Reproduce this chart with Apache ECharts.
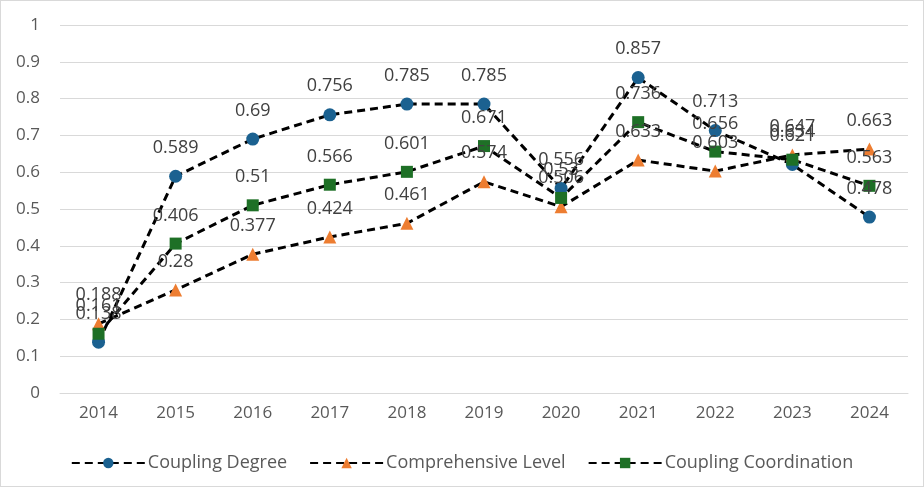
<!DOCTYPE html>
<html>
<head>
<meta charset="utf-8">
<script src="https://cdn.jsdelivr.net/npm/echarts@6/dist/echarts.min.js"></script>
<style>
  html, body { margin: 0; padding: 0; background: #fff; }
  #main { width: 922px; height: 485px; border: 1px solid #d9d9d9; }
</style>
</head>
<body>
<div id="main"></div>
<script>
var years = ['2014','2015','2016','2017','2018','2019','2020','2021','2022','2023','2024'];
var couplingDegree = [0.138,0.589,0.69,0.756,0.785,0.785,0.556,0.857,0.713,0.621,0.478];
var comprehensiveLevel = [0.188,0.28,0.377,0.424,0.461,0.574,0.506,0.633,0.603,0.647,0.663];
var couplingCoordination = [0.161,0.406,0.51,0.566,0.601,0.671,0.53,0.736,0.656,0.634,0.563];

var font = 'Open Sans, Liberation Sans, sans-serif';

/*公共线条样式*/
function makeSeries(name, data, symbol, color, size){
    return {
        name: name,
        type: 'line',
        data: data,
        symbol: symbol,
        symbolSize: size,
        itemStyle: { color: color },
        lineStyle: { color: '#000', width: 3, type: [8, 5] },
        label: {
            show: true,
            position: 'top',
            distance: 13,
            color: '#404040',
            fontSize: 18,
            fontFamily: font
        },
        animation: false
    };
}

var myChart = echarts.init(document.getElementById('main'));
var option = {
    grid: { left: 59, right: 15, top: 24, bottom: 93 },
    legend: {
        bottom: 9,
        left: 'center',
        itemWidth: 73,
        itemHeight: 13,
        itemGap: 22,
        textStyle: { color: '#595959', fontSize: 18, fontFamily: font, padding: [0, 0, 0, -2] }
    },
    xAxis: {
        type: 'category',
        data: years,
        axisLine: { lineStyle: { color: '#d9d9d9' } },
        axisTick: { show: false },
        axisLabel: { color: '#595959', fontSize: 17, fontFamily: font, margin: 12 }
    },
    yAxis: {
        type: 'value',
        min: 0,
        max: 1,
        interval: 0.1,
        axisLine: { show: false },
        axisTick: { show: false },
        splitLine: { lineStyle: { color: '#d9d9d9', width: 1 } },
        axisLabel: { color: '#595959', fontSize: 17, fontFamily: font, margin: 20 }
    },
    series: [
        makeSeries('Coupling Degree', couplingDegree, 'circle', '#1b6190', 13),
        makeSeries('Comprehensive Level', comprehensiveLevel, 'triangle', '#ed7d31', 13),
        makeSeries('Coupling Coordination', couplingCoordination, 'rect', '#1e7026', 12)
    ]
};
myChart.setOption(option);
</script>
</body>
</html>
